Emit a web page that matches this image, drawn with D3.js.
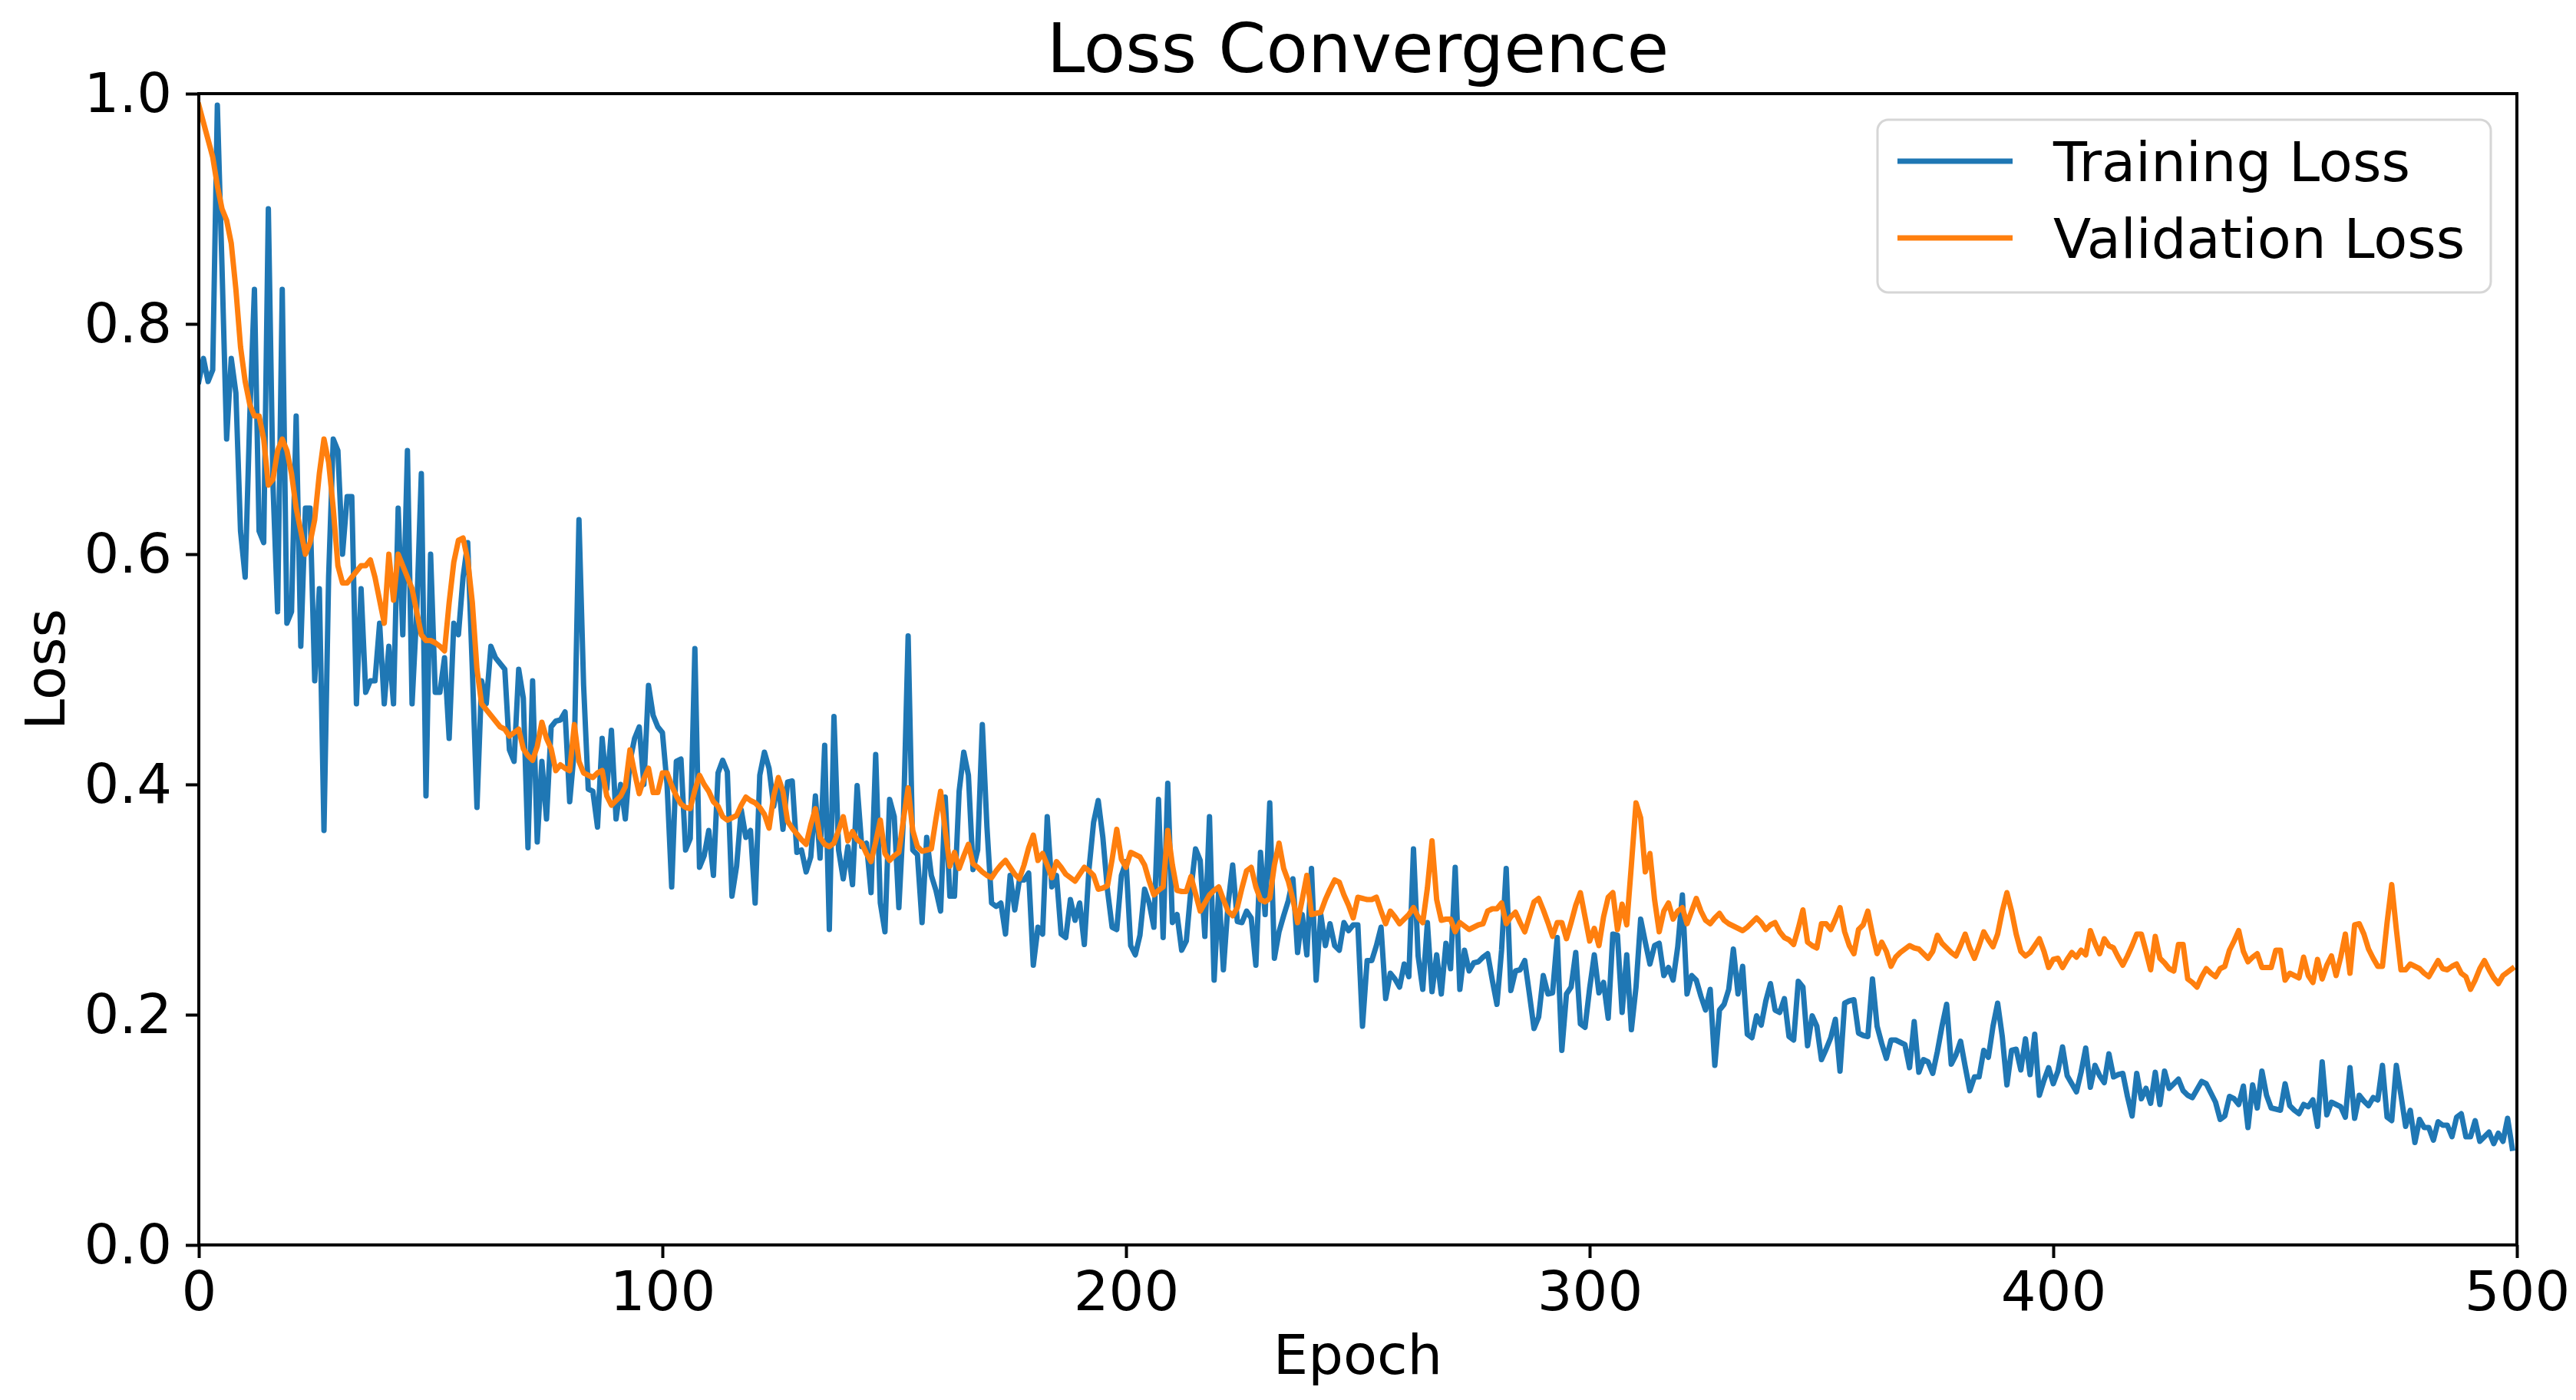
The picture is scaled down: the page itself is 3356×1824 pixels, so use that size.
<!DOCTYPE html>
<html>
<head>
<meta charset="utf-8">
<script src="https://cdn.jsdelivr.net/npm/d3@7"></script>
<style>
  html, body { margin: 0; padding: 0; background: #ffffff; }
  svg { display: block; }
  text { font-family: "DejaVu Sans", sans-serif; fill: #000; }
</style>
</head>
<body>
<svg id="chart" width="3356" height="1824"></svg>
<script>
// ---------------- DATA ----------------
const chartTitle = "Loss Convergence";
const xLabel = "Epoch";
const yLabel = "Loss";
const seriesNames = ["Training Loss", "Validation Loss"];
const xTicks = [0, 100, 200, 300, 400, 500];
const yTicks = [0.0, 0.2, 0.4, 0.6, 0.8, 1.0];

const trainingLoss = [
  0.75,0.77,0.75,0.76,0.99,0.85,0.70,0.77,0.74,0.62,
  0.58,0.72,0.83,0.62,0.61,0.90,0.66,0.55,0.83,0.54,
  0.55,0.72,0.52,0.64,0.64,0.49,0.57,0.36,0.58,0.70,
  0.69,0.60,0.65,0.65,0.47,0.57,0.48,0.49,0.49,0.54,
  0.47,0.52,0.47,0.64,0.53,0.69,0.47,0.55,0.67,0.39,
  0.60,0.48,0.48,0.51,0.44,0.54,0.53,0.58,0.61,0.50,
  0.38,0.49,0.47,0.52,0.51,0.505,0.50,0.43,0.42,0.50,
  0.475,0.345,0.49,0.35,0.42,0.37,0.45,0.455,0.456,0.463,
  0.385,0.43,0.63,0.486,0.396,0.394,0.363,0.44,0.396,0.447,
  0.37,0.40,0.37,0.42,0.44,0.45,0.40,0.486,0.46,0.45,
  0.445,0.40,0.311,0.42,0.422,0.343,0.353,0.518,0.328,0.338,
  0.36,0.321,0.41,0.421,0.411,0.303,0.329,0.378,0.354,0.36,
  0.297,0.408,0.428,0.414,0.381,0.403,0.361,0.402,0.403,0.341,
  0.343,0.324,0.337,0.39,0.336,0.434,0.274,0.459,0.343,0.318,
  0.346,0.313,0.399,0.346,0.349,0.306,0.426,0.297,0.272,0.387,
  0.372,0.293,0.372,0.529,0.343,0.339,0.28,0.354,0.321,0.308,
  0.29,0.389,0.303,0.303,0.394,0.428,0.408,0.326,0.343,0.452,
  0.363,0.297,0.294,0.297,0.27,0.321,0.291,0.317,0.317,0.323,
  0.243,0.276,0.27,0.372,0.311,0.321,0.27,0.267,0.30,0.282,
  0.297,0.261,0.326,0.367,0.386,0.354,0.308,0.276,0.274,0.321,
  0.333,0.26,0.252,0.269,0.309,0.297,0.276,0.387,0.267,0.401,
  0.28,0.287,0.256,0.264,0.309,0.344,0.334,0.268,0.372,0.23,
  0.309,0.239,0.296,0.33,0.281,0.28,0.29,0.284,0.243,0.341,
  0.287,0.384,0.249,0.272,0.286,0.299,0.318,0.254,0.287,0.252,
  0.327,0.23,0.287,0.26,0.279,0.26,0.256,0.28,0.273,0.278,
  0.278,0.19,0.247,0.247,0.26,0.276,0.214,0.236,0.231,0.224,
  0.244,0.233,0.344,0.251,0.222,0.28,0.22,0.252,0.218,0.262,
  0.24,0.328,0.222,0.256,0.238,0.245,0.246,0.25,0.253,0.23,
  0.209,0.256,0.327,0.221,0.238,0.239,0.247,0.218,0.188,0.198,
  0.234,0.218,0.219,0.267,0.169,0.218,0.224,0.254,0.192,0.189,
  0.223,0.252,0.219,0.228,0.197,0.27,0.269,0.202,0.252,0.187,
  0.224,0.283,0.263,0.244,0.26,0.262,0.234,0.241,0.23,0.259,
  0.304,0.218,0.234,0.23,0.216,0.204,0.222,0.156,0.204,0.209,
  0.222,0.257,0.218,0.242,0.183,0.18,0.199,0.191,0.212,0.227,
  0.204,0.202,0.214,0.181,0.178,0.229,0.224,0.173,0.199,0.19,
  0.161,0.17,0.18,0.196,0.151,0.21,0.212,0.213,0.184,0.182,
  0.181,0.231,0.19,0.175,0.162,0.178,0.178,0.176,0.174,0.154,
  0.194,0.15,0.161,0.159,0.149,0.168,0.19,0.209,0.157,0.165,
  0.177,0.155,0.134,0.146,0.146,0.169,0.163,0.19,0.21,0.181,
  0.139,0.169,0.17,0.152,0.179,0.148,0.183,0.13,0.143,0.154,
  0.14,0.151,0.172,0.147,0.14,0.133,0.15,0.171,0.137,0.156,
  0.147,0.141,0.166,0.146,0.148,0.149,0.129,0.112,0.149,0.127,
  0.136,0.123,0.15,0.122,0.151,0.136,0.14,0.144,0.134,0.13,
  0.128,0.135,0.142,0.14,0.132,0.124,0.109,0.112,0.129,0.127,
  0.122,0.138,0.102,0.139,0.119,0.151,0.13,0.119,0.118,0.117,
  0.14,0.121,0.117,0.114,0.122,0.12,0.126,0.103,0.159,0.113,
  0.124,0.122,0.12,0.111,0.154,0.11,0.13,0.125,0.121,0.128,
  0.126,0.156,0.111,0.108,0.156,0.13,0.103,0.117,0.089,0.109,
  0.102,0.102,0.091,0.107,0.104,0.104,0.094,0.111,0.114,0.094,
  0.094,0.108,0.09,0.094,0.098,0.088,0.097,0.09,0.11,0.084
];

const validationLoss = [
  0.99,0.975,0.96,0.945,0.92,0.90,0.89,0.87,0.83,0.78,
  0.75,0.73,0.72,0.72,0.70,0.66,0.665,0.69,0.70,0.69,
  0.67,0.64,0.62,0.60,0.61,0.63,0.67,0.70,0.68,0.64,
  0.59,0.575,0.575,0.58,0.585,0.59,0.59,0.595,0.58,0.56,
  0.54,0.60,0.56,0.60,0.59,0.58,0.57,0.55,0.53,0.525,
  0.525,0.523,0.52,0.516,0.558,0.593,0.612,0.614,0.595,0.558,
  0.50,0.47,0.465,0.46,0.455,0.45,0.448,0.442,0.445,0.448,
  0.431,0.425,0.421,0.433,0.454,0.44,0.431,0.412,0.417,0.414,
  0.412,0.452,0.42,0.41,0.408,0.406,0.41,0.412,0.39,0.382,
  0.386,0.39,0.398,0.43,0.41,0.392,0.405,0.414,0.393,0.393,
  0.41,0.41,0.399,0.39,0.383,0.38,0.379,0.395,0.408,0.40,
  0.394,0.385,0.381,0.372,0.369,0.371,0.373,0.382,0.389,0.386,
  0.384,0.38,0.374,0.362,0.39,0.406,0.394,0.368,0.362,0.357,
  0.352,0.348,0.365,0.379,0.354,0.348,0.346,0.349,0.36,0.372,
  0.351,0.359,0.352,0.349,0.34,0.333,0.35,0.369,0.34,0.334,
  0.338,0.341,0.37,0.397,0.36,0.346,0.342,0.343,0.344,0.37,
  0.394,0.36,0.329,0.341,0.327,0.338,0.348,0.331,0.328,0.324,
  0.321,0.319,0.325,0.33,0.334,0.328,0.322,0.318,0.33,0.345,
  0.356,0.334,0.34,0.33,0.319,0.333,0.328,0.322,0.319,0.316,
  0.322,0.328,0.325,0.321,0.309,0.31,0.312,0.335,0.361,0.335,
  0.328,0.341,0.339,0.337,0.33,0.316,0.304,0.308,0.311,0.36,
  0.33,0.308,0.307,0.307,0.32,0.305,0.29,0.297,0.304,0.308,
  0.311,0.30,0.29,0.286,0.293,0.31,0.325,0.328,0.311,0.30,
  0.298,0.301,0.33,0.349,0.327,0.316,0.30,0.28,0.30,0.321,
  0.287,0.288,0.289,0.30,0.309,0.317,0.315,0.304,0.295,0.284,
  0.302,0.301,0.30,0.30,0.302,0.29,0.279,0.29,0.285,0.279,
  0.283,0.287,0.293,0.285,0.28,0.31,0.351,0.30,0.282,0.283,
  0.283,0.272,0.28,0.277,0.274,0.276,0.278,0.279,0.29,0.292,
  0.292,0.297,0.279,0.285,0.289,0.28,0.272,0.285,0.298,0.301,
  0.291,0.28,0.268,0.28,0.28,0.266,0.28,0.295,0.306,0.285,
  0.264,0.275,0.26,0.285,0.302,0.306,0.274,0.296,0.278,0.33,
  0.384,0.371,0.324,0.34,0.30,0.272,0.29,0.297,0.283,0.29,
  0.293,0.279,0.29,0.301,0.29,0.282,0.279,0.284,0.288,0.282,
  0.279,0.277,0.275,0.273,0.276,0.28,0.284,0.28,0.274,0.278,
  0.28,0.272,0.267,0.265,0.261,0.275,0.291,0.263,0.26,0.258,
  0.279,0.279,0.274,0.283,0.293,0.272,0.26,0.253,0.274,0.278,
  0.29,0.27,0.253,0.263,0.255,0.242,0.25,0.254,0.257,0.26,
  0.258,0.257,0.253,0.249,0.255,0.269,0.262,0.258,0.254,0.251,
  0.26,0.27,0.258,0.249,0.26,0.272,0.265,0.259,0.27,0.29,
  0.306,0.29,0.27,0.255,0.251,0.254,0.26,0.266,0.255,0.241,
  0.248,0.249,0.241,0.248,0.254,0.25,0.256,0.252,0.273,0.262,
  0.253,0.266,0.26,0.258,0.25,0.243,0.251,0.26,0.27,0.27,
  0.255,0.239,0.268,0.249,0.245,0.24,0.238,0.261,0.261,0.231,
  0.228,0.224,0.233,0.24,0.236,0.233,0.24,0.242,0.256,0.264,
  0.273,0.255,0.246,0.25,0.253,0.241,0.241,0.241,0.256,0.256,
  0.23,0.236,0.234,0.232,0.25,0.234,0.228,0.248,0.231,0.243,
  0.251,0.234,0.25,0.27,0.236,0.278,0.279,0.27,0.257,0.249,
  0.242,0.242,0.28,0.313,0.274,0.239,0.239,0.244,0.242,0.24,
  0.236,0.233,0.24,0.247,0.24,0.239,0.242,0.244,0.236,0.233,
  0.222,0.23,0.24,0.247,0.239,0.232,0.227,0.234,0.237,0.24
];

const seriesColors = ["#1f77b4", "#ff7f0e"];

// ---------------- LAYOUT ----------------
const W = 3356, H = 1824;
const m = { left: 259, top: 122, right: 3356 - 3279, bottom: 1824 - 1622 };
const iw = W - m.left - m.right;
const ih = H - m.top - m.bottom;
const FS = 72;
const LW = 7;

const svg = d3.select("#chart");
svg.append("rect").attr("width", W).attr("height", H).attr("fill", "#fff");

const g = svg.append("g").attr("transform", `translate(${m.left},${m.top})`);

const x = d3.scaleLinear().domain([0, 500]).range([0, iw]);
const y = d3.scaleLinear().domain([0, 1]).range([ih, 0]);

svg.append("defs").append("clipPath").attr("id", "clip")
  .append("rect").attr("x", 0).attr("y", 0).attr("width", iw).attr("height", ih);

// lines
const series = [trainingLoss, validationLoss];
const line = d3.line().x((d, i) => x(i)).y(d => y(d));
const lines = g.append("g").attr("clip-path", "url(#clip)");
series.forEach((s, k) => {
  lines.append("path")
    .datum(s)
    .attr("d", line)
    .attr("fill", "none")
    .attr("stroke", seriesColors[k])
    .attr("stroke-width", LW)
    .attr("stroke-linejoin", "round")
    .attr("stroke-linecap", "square");
});

// axes
const xAxis = d3.axisBottom(x).tickValues(xTicks).tickFormat(d3.format("d"))
  .tickSize(17).tickPadding(17);
const yAxis = d3.axisLeft(y).tickValues(yTicks).tickFormat(d3.format(".1f"))
  .tickSize(17).tickPadding(18);

const gx = g.append("g").attr("transform", `translate(0,${ih})`).call(xAxis);
const gy = g.append("g").call(yAxis);
[gx, gy].forEach(a => {
  a.select(".domain").remove();
  a.selectAll(".tick line").attr("stroke", "#000").attr("stroke-width", 4);
  a.selectAll(".tick text")
    .style("font-family", "DejaVu Sans, sans-serif")
    .style("font-size", FS + "px")
    .attr("fill", "#000");
});

// spines
g.append("rect").attr("x", 0).attr("y", 0).attr("width", iw).attr("height", ih)
  .attr("fill", "none").attr("stroke", "#000").attr("stroke-width", 4);

// title & labels
svg.append("text").attr("x", m.left + iw / 2).attr("y", 94)
  .attr("text-anchor", "middle").style("font-size", "89px").text(chartTitle);
svg.append("text").attr("x", m.left + iw / 2).attr("y", 1790)
  .attr("text-anchor", "middle").style("font-size", FS + "px").text(xLabel);
svg.append("text").attr("transform", `translate(84,${m.top + ih / 2}) rotate(-90)`)
  .attr("text-anchor", "middle").style("font-size", FS + "px").text(yLabel);

// legend
const lg = svg.append("g");
lg.append("rect").attr("x", 2446).attr("y", 156).attr("width", 799).attr("height", 225)
  .attr("rx", 14).attr("ry", 14)
  .attr("fill", "#fff").attr("fill-opacity", 0.8)
  .attr("stroke", "#d6d6d6").attr("stroke-width", 3);
seriesNames.forEach((name, k) => {
  const cy = 210 + k * 100;
  lg.append("line").attr("x1", 2472).attr("x2", 2622).attr("y1", cy).attr("y2", cy)
    .attr("stroke", seriesColors[k]).attr("stroke-width", LW);
  lg.append("text").attr("x", 2675).attr("y", cy).attr("dy", "0.36em")
    .style("font-size", FS + "px").text(name);
});
</script>
</body>
</html>
